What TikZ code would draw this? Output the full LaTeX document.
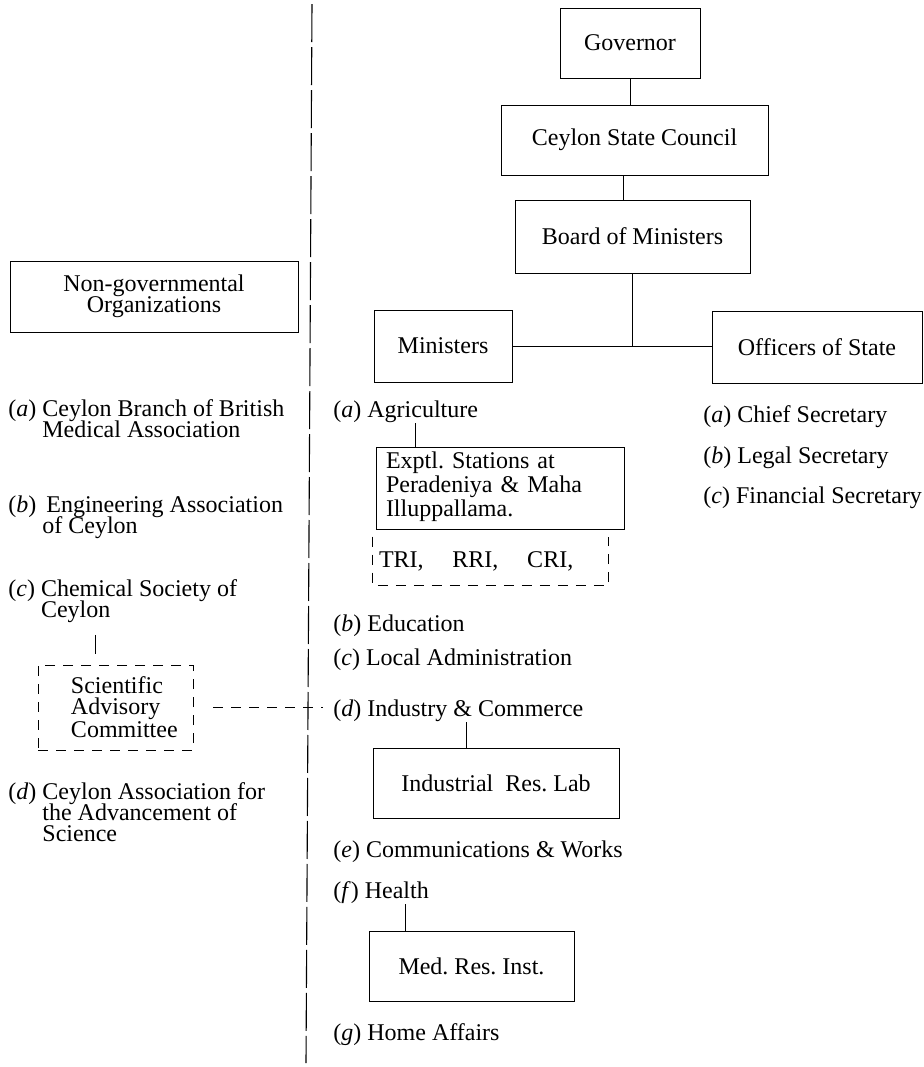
\documentclass[tikz,border=0pt]{standalone}
\usepackage{fontspec}
\setmainfont{Liberation Serif}
\usetikzlibrary{positioning}
\setlength{\lineskiplimit}{-10pt}
\frenchspacing
\newcommand{\itm}[1]{(\textit{#1})~}
\newcommand{\hang}[1]{\hphantom{(\textit{#1})~}}

\begin{document}
\begin{tikzpicture}[
    x=0.5pt, y=-0.5pt,
    every node/.style={font=\fontsize{12}{10.5}\selectfont},
    office/.style={draw, line width=0.5pt, minimum height=35pt, align=center},
    advisory/.style={draw, line width=0.45pt, dash pattern=on 5pt off 4pt, align=left, minimum height=42.5pt},
    entry/.style={anchor=west, inner sep=0pt, align=left},
    link/.style={line width=0.45pt},
    advlink/.style={link, dash pattern=on 5pt off 4pt},
    divider/.style={line width=0.55pt, dash pattern=on 19pt off 2.5pt}
  ]
  \useasboundingbox (0,0) rectangle (923,1067);

  % Dividing line between the two sides
  \coordinate (divtop) at (312,4);
  \coordinate (divbot) at (306,1063);
  \draw[divider] (divtop) -- (divbot);

  % Government chain
  \node[office, minimum width=70pt] (gov) at (630,43) {Governor};
  \node[office, minimum width=133.5pt] (council) at (634.5,140) {Ceylon State Council};
  \node[office, minimum width=117.5pt, minimum height=36.5pt] (board) at (632.5,236.5) {Board of Ministers};
  \node[office, minimum width=69pt, minimum height=36pt] (mins) at (443,346) {Ministers};
  \node[office, minimum width=105pt, minimum height=36pt] (offs) at (817,347) {Officers of State};

  \draw[link] (gov.south) -- (gov.south |- council.north);
  \draw[link] ([xshift=-5.5pt]council.south) -- ([xshift=-5.5pt]council.south |- board.north);
  \draw[link] (board.south) -- (board.south |- mins.east);
  \draw[link] (mins.east) -- (mins.east -| offs.west);

  % Ministries
  \node[entry] (agri) at (333,412) {\itm{a}Agriculture};
  \node[office, anchor=north, text width=114pt, inner xsep=5pt, inner ysep=0pt, align=left,
        text height=10.5pt, text depth=30.5pt] (exptl) at (500,447)
        {\baselineskip=9.5pt Exptl. Stations at\\Peradeniya \& Maha\\Illuppallama.};
  \node[text width=111.5pt, inner xsep=3pt, minimum height=24pt, align=left] (tri) at (490.5,561) {TRI,\hspace{1.2em}RRI,\hspace{1.2em}CRI,};
  \draw[advlink] (tri.north west) -- (tri.south west) -- (tri.south east) -- (tri.north east);
  \draw[link] ([xshift=4.75pt]agri.south) -- ([xshift=4.75pt]agri.south |- exptl.north);

  \node[entry] (edu) at (333,626) {\itm{b}Education};
  \node[entry] (local) at (333,660) {\itm{c}Local Administration};
  \node[entry] (indus) at (333,711) {\itm{d}Industry \& Commerce};
  \node[office, minimum width=123pt] (indlab) at (496,783) {Industrial\ \ Res.\ Lab};
  \draw[link] ([xshift=4pt]indus.south) -- ([xshift=4pt]indus.south |- indlab.north);

  \node[entry] (comm) at (333,852) {\itm{e}Communications \& Works};
  \node[entry] (health) at (333,893) {\itm{f}Health};
  \node[office, minimum width=102.5pt] (medres) at (471.5,966) {Med. Res. Inst.};
  \draw[link] ([xshift=12pt]health.south) -- ([xshift=12pt]health.south |- medres.north);
  \node[entry] (home) at (333,1035) {\itm{g}Home Affairs};

  % Officers of State
  \node[entry] (chief) at (703,417) {\itm{a}Chief Secretary};
  \node[entry] (legal) at (703,458) {\itm{b}Legal Secretary};
  \node[entry] (fin) at (703,498) {\itm{c}Financial Secretary};

  % Non-governmental side
  \node[office, minimum width=144pt, minimum height=35.5pt] (ngo) at (154,296.5) {Non-governmental\\Organizations};
  \node[entry] (bma) at (8,419) {\itm{a}Ceylon Branch of British\\\hang{a}Medical Association};
  \node[entry] (eng) at (8,517) {\itm{b}\,Engineering Association\\\hang{b}of Ceylon};
  \node[entry] (chem) at (8,601) {\itm{c}Chemical Society of\\\hang{c}Ceylon};
  \node[advisory, text width=62.5pt, inner xsep=7.5pt] (sci) at (115.5,707.5)
        {\baselineskip=10.5pt\hspace*{9pt}Scientific\\\hspace*{9pt}Advisory\\\hspace*{9pt}Committee};
  \node[entry] (caas) at (8,812) {\itm{d}Ceylon Association for\\\hang{d}the Advancement of\\\hang{d}Science};

  \coordinate (chemstub) at (95,654);
  \draw[link] ([yshift=-6pt]chem.south -| chemstub) -- (chemstub);
  \draw[advlink] ([xshift=10pt]sci.east) -- ([xshift=-5pt]sci.east -| indus.west);
\end{tikzpicture}
\end{document}
